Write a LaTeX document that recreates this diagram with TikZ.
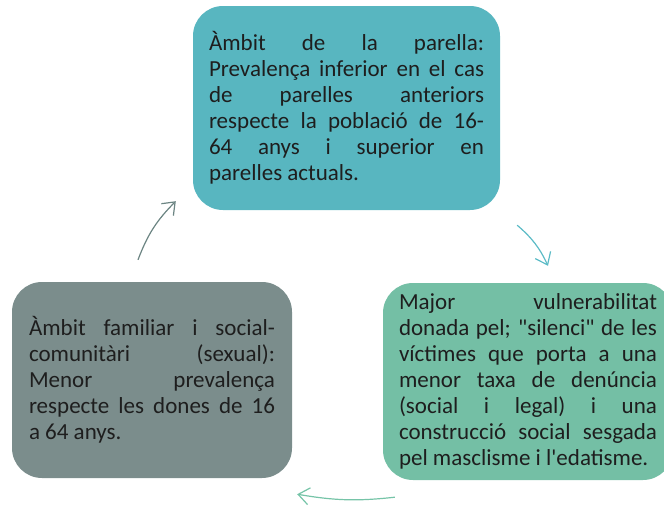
\documentclass[tikz,border=0pt]{standalone}
\usepackage{fontspec}
\setmainfont{Carlito}
\usetikzlibrary{arrows.meta,calc}
\definecolor{cParella}{HTML}{58B6C0}
\definecolor{cFamilia}{HTML}{7B8D8C}
\definecolor{cVulner}{HTML}{74BFA5}
\definecolor{cArrFam}{HTML}{6B8482}
\definecolor{cArrPar}{HTML}{5BBBC6}
\definecolor{cArrVul}{HTML}{76C4A8}
\definecolor{cInk}{HTML}{1E1E1E}

\begin{document}
\begin{tikzpicture}[
    x=1pt, y=1pt,
    every node/.style={text=cInk},
    ambit/.style={
        rectangle, rounded corners=30pt, draw=none,
        align=justify, inner sep=0pt,
        font=\fontsize{23}{26}\selectfont
    },
    cicle/.style={-{Straight Barb[length=11pt,width=17pt]}, line width=1.2pt},
]
\clip (0,0) rectangle (664,-506);

% =====================================================
% Boxes
% =====================================================

\node[ambit, fill=cParella, minimum width=307pt, minimum height=204pt, text width=275pt]
    (parella) at (346.5,-108)
    {Àmbit de la parella:\linebreak Prevalença inferior en el cas\linebreak
     de parelles anteriors\linebreak respecte la població de 16-\linebreak
     64 anys i superior en\linebreak parelles actuals.};

\node[ambit, fill=cFamilia, minimum width=280pt, minimum height=196pt, text width=246pt]
    (familiar) at (152,-380)
    {Àmbit familiar i social-\linebreak comunitàri (sexual):\linebreak
     Menor prevalença\linebreak respecte les dones de 16\linebreak a 64 anys.};

\node[ambit, fill=cVulner, minimum width=290pt, minimum height=197pt, text width=258pt]
    (vulner) at (528,-381.5)
    {Major vulnerabilitat\linebreak donada pel; \textquotedbl silenci\textquotedbl{} de les\linebreak
     víctimes que porta a una\linebreak menor taxa de denúncia\linebreak
     (social i legal) i una\linebreak construcció social sesgada\linebreak
     pel masclisme i l\textquotesingle edatisme.};

% =====================================================
% Cycle arrows
% =====================================================

\coordinate (famOut) at ($(familiar.north)+(-14,22)$);
\coordinate (parIn)  at ($(parella.south west)+(-17,9)$);
\coordinate (parOut) at ($(parella.south east)+(17,-15)$);
\coordinate (vulIn)  at ($(vulner.north)+(20,17)$);
\coordinate (vulOut) at ($(vulner.south west)+(12,-17)$);
\coordinate (famIn)  at ($(familiar.south east)+(5,-16)$);

\draw[cicle, draw=cArrFam] (famOut) to[bend left=12] (parIn);
\draw[cicle, draw=cArrPar] (parOut) to[bend left=12] (vulIn);
\draw[cicle, draw=cArrVul] (vulOut) to[bend left=8]  (famIn);

\end{tikzpicture}
\end{document}
